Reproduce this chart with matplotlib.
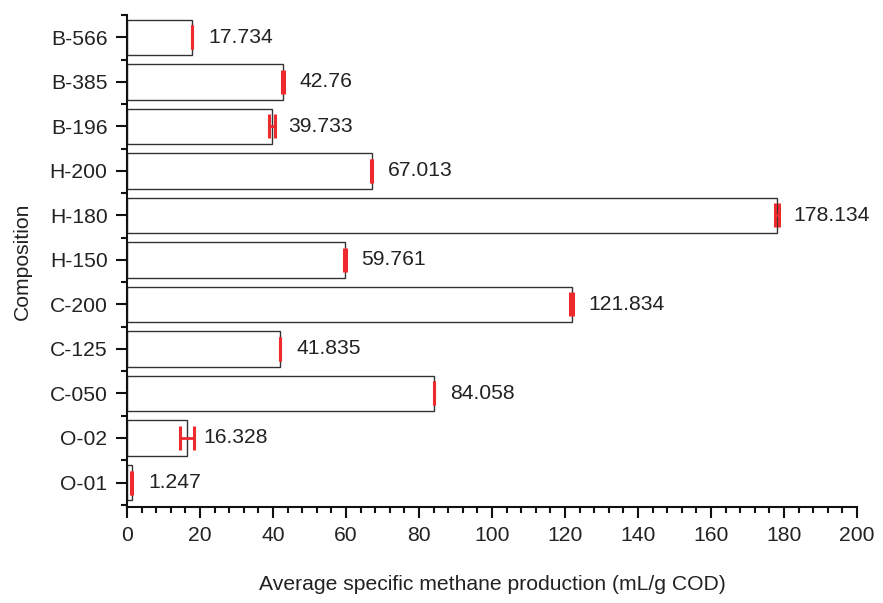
import numpy as np
import matplotlib
matplotlib.use('Agg')
import matplotlib.pyplot as plt
from matplotlib.ticker import MultipleLocator, FixedLocator

plt.rcParams['font.family'] = ['Liberation Sans', 'DejaVu Sans']

# 数据
labels = ['O-01', 'O-02', 'C-050', 'C-125', 'C-200', 'H-150', 'H-180', 'H-200',
          'B-196', 'B-385', 'B-566']
values = [1.247, 16.328, 84.058, 41.835, 121.834, 59.761, 178.134, 67.013,
          39.733, 42.76, 17.734]
errors = [0.05, 1.9, 0.05, 0.05, 0.4, 0.3, 0.6, 0.05, 0.9, 0.2, 0.05]

fig = plt.figure(figsize=(8.83, 6.03), dpi=100)
ax = fig.add_axes([0.1438, 0.1592, 0.8268, 0.8158])

y = np.arange(len(labels))
ax.barh(y, values, height=0.8, color='white', edgecolor='#333333', linewidth=1.0, zorder=2)
ax.errorbar(values, y, xerr=errors, fmt='none', ecolor='#ee2a2f', elinewidth=2,
            capsize=8.5, capthick=2.2, zorder=3)

# 数值标注
for yi, v in zip(y, values):
    ax.text(v + 4.5, yi, f'{v:g}', va='center', ha='left', fontsize=15.2,
            color='#222222')

ax.set_xlim(0, 200)
ax.set_ylim(-0.55, 10.5)
ax.set_yticks(y)
ax.set_yticklabels(labels)
ax.yaxis.set_minor_locator(FixedLocator(np.arange(-0.5, 10.6, 1)))
ax.xaxis.set_major_locator(MultipleLocator(20))
ax.xaxis.set_minor_locator(MultipleLocator(4))

for s in ['top', 'right']:
    ax.spines[s].set_visible(False)
for s in ['left', 'bottom']:
    ax.spines[s].set_linewidth(1.5)
    ax.spines[s].set_color('#111111')

ax.tick_params(axis='both', which='major', direction='out', length=8, width=1.5,
               labelsize=15.2, colors='#111111', labelcolor='#222222')
ax.tick_params(axis='both', which='minor', direction='out', length=4, width=1.5,
               colors='#111111')
ax.tick_params(axis='y', which='major', pad=6)
ax.tick_params(axis='x', which='major', pad=6)

ax.set_xlabel('Average specific methane production (mL/g COD)', fontsize=15.2,
              labelpad=21, color='#222222')
ax.set_ylabel('Composition', fontsize=15.2, labelpad=13, color='#222222')

fig.savefig('out.png', dpi=100)
